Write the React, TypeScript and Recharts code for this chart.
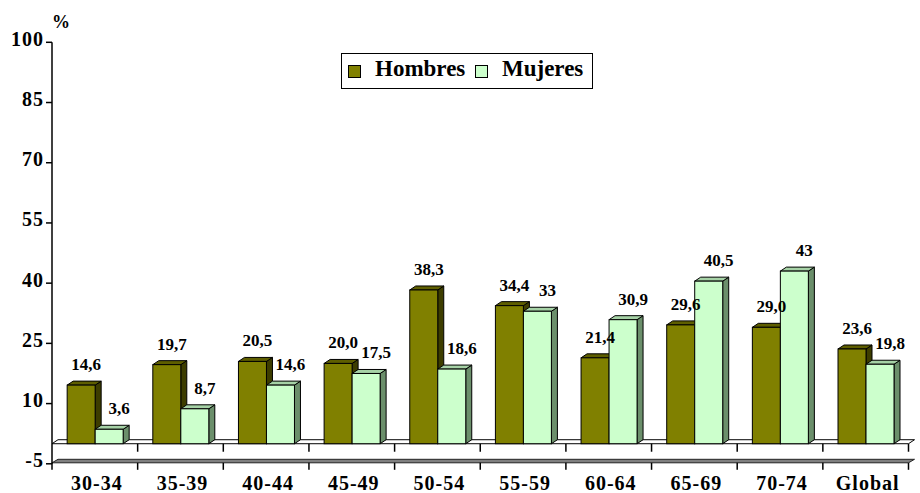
import React from 'react';
import { BarChart, Bar, XAxis, YAxis, Legend, LabelList, ReferenceArea } from 'recharts';

// Prevalencia (%) por grupo de edad y sexo
const categories = ['30-34', '35-39', '40-44', '45-49', '50-54', '55-59', '60-64', '65-69', '70-74', 'Global'];
const hombres = [14.6, 19.7, 20.5, 20.0, 38.3, 34.4, 21.4, 29.6, 29.0, 23.6];
const mujeres = [3.6, 8.7, 14.6, 17.5, 18.6, 33, 30.9, 40.5, 43, 19.8];
const yTicks = [-5, 10, 25, 40, 55, 70, 85, 100];

const rows = categories.map((grupo, i) => ({ grupo, hombres: hombres[i], mujeres: mujeres[i] }));

const SERIF = '"Liberation Serif", "Times New Roman", Times, serif';
const DX = 6;
const DY = -4;

const HOMBRES = { front: '#808000', top: '#5e5e00', side: '#3d3d00' };
const MUJERES = { front: '#ccffcc', top: '#a6d2a6', side: '#6b8f6b' };

type Faces = { front: string; top: string; side: string };

// Prism-style bar: front face, top face and right side face
const makeBar3D = (c: Faces) => (props: any) => {
  const { x, y, width, height } = props;
  if (width == null || height == null) return null;
  const w = width;
  const h = height;
  const topPts = `${x},${y} ${x + DX},${y + DY} ${x + w + DX},${y + DY} ${x + w},${y}`;
  const sidePts = `${x + w},${y} ${x + w + DX},${y + DY} ${x + w + DX},${y + h + DY} ${x + w},${y + h}`;
  return (
    <g>
      <polygon points={sidePts} fill={c.side} stroke="#000" strokeWidth={1} strokeLinejoin="round" />
      <polygon points={topPts} fill={c.top} stroke="#000" strokeWidth={1} strokeLinejoin="round" />
      <rect x={x} y={y} width={w} height={h} fill={c.front} stroke="#000" strokeWidth={1} />
    </g>
  );
};

// Zero plane, floor slab at the axis minimum and the category separators
const FloorShape = (props: any) => {
  const { x, y, width, height } = props;
  const n = categories.length;
  const step = width / n;
  const y0 = y;
  const yb = y + height - 1;
  const sDY = -3.5;
  const seps = Array.from({ length: n + 1 }, (_, i) => x + i * step);
  return (
    <g>
      <polygon
        points={`${x},${y0} ${x + DX},${y0 + DY} ${x + width + DX},${y0 + DY} ${x + width},${y0}`}
        fill="#fff"
        stroke="#000"
        strokeWidth={1}
      />
      {seps.slice(1).map((sx, i) => (
        <line key={`a${i}`} x1={sx} y1={y0} x2={sx} y2={y0 + 8} stroke="#000" strokeWidth={1.5} />
      ))}
      <polygon
        points={`${x},${yb} ${x + DX},${yb + sDY} ${x + width + DX},${yb + sDY} ${x + width},${yb}`}
        fill="#808080"
        stroke="#222"
        strokeWidth={1}
      />
      {seps.map((sx, i) => (
        <line key={`b${i}`} x1={sx} y1={yb} x2={sx} y2={yb + 7} stroke="#000" strokeWidth={1.5} />
      ))}
    </g>
  );
};

const fmtH = (v: number) => v.toFixed(1).replace('.', ',');
const fmtM = (v: number) => String(v).replace('.', ',');

const makeValueLabel = (fmt: (v: number) => string, shift: number) => (props: any) => {
  const { x, y, width, value } = props;
  return (
    <text
      x={x + width / 2 + shift}
      y={y - 15}
      textAnchor="middle"
      fontFamily={SERIF}
      fontWeight="bold"
      fontSize={17}
      fill="#000"
    >
      {fmt(value)}
    </text>
  );
};

const YTick = (props: any) => {
  const { x, y, payload } = props;
  return (
    <text x={x} y={y + 3.5} textAnchor="end" fontFamily={SERIF} fontWeight="bold" fontSize={20} letterSpacing={1} fill="#000">
      {payload.value}
    </text>
  );
};

const XTick = (props: any) => {
  const { x, y, payload } = props;
  return (
    <text x={x + 2} y={y + 26} textAnchor="middle" fontFamily={SERIF} fontWeight="bold" fontSize={20} letterSpacing={1} fill="#000">
      {payload.value}
    </text>
  );
};

const PercentLabel = (props: any) => {
  const vb = props.viewBox || {};
  return (
    <text x={vb.x + vb.width + 9} y={vb.y - 14} textAnchor="middle" fontFamily={SERIF} fontWeight="bold" fontSize={18} fill="#000">
      %
    </text>
  );
};

const swatch = (bg: string): React.CSSProperties => ({
  position: 'absolute',
  top: 11,
  width: 13,
  height: 13,
  background: bg,
  border: '1px solid #000',
  boxSizing: 'border-box',
});

const textStyle: React.CSSProperties = {
  position: 'absolute',
  top: 3,
  fontFamily: SERIF,
  fontWeight: 'bold',
  fontSize: 23,
  lineHeight: '23px',
  color: '#000',
  whiteSpace: 'nowrap',
};

const LegendBox = () => (
  <div style={{ position: 'relative', width: 252, height: 36, border: '1px solid #000', boxSizing: 'border-box', background: '#fff' }}>
    <div style={{ ...swatch(HOMBRES.front), left: 6 }} />
    <span style={{ ...textStyle, left: 33 }}>Hombres</span>
    <div style={{ ...swatch(MUJERES.front), left: 133 }} />
    <span style={{ ...textStyle, left: 160 }}>Mujeres</span>
  </div>
);

export default function App() {
  return (
    <div style={{ position: 'absolute', left: 0, top: 0, background: '#fff' }}>
      <BarChart
        width={920}
        height={493}
        data={rows}
        margin={{ top: 42.3, right: 11.5, bottom: 0, left: 0 }}
        barCategoryGap="17.7%"
        barGap={0}
      >
        <ReferenceArea y1={-5} y2={0} ifOverflow="visible" shape={FloorShape} />
        <XAxis
          dataKey="grupo"
          axisLine={false}
          tickLine={false}
          tickSize={0}
          tickMargin={0}
          height={29.2}
          interval={0}
          tick={XTick}
        />
        <YAxis
          type="number"
          domain={[-5, 100]}
          ticks={yTicks}
          interval={0}
          width={52}
          tickSize={6}
          tickMargin={2}
          axisLine={{ stroke: '#000', strokeWidth: 1.5 }}
          tickLine={{ stroke: '#000', strokeWidth: 1.5 }}
          tick={YTick}
          label={PercentLabel}
        />
        <Legend
          layout="horizontal"
          verticalAlign="middle"
          align="center"
          wrapperStyle={{ left: 341, top: 53, width: 252, height: 36 }}
          content={LegendBox}
        />
        <Bar dataKey="hombres" name="Hombres" fill={HOMBRES.front} isAnimationActive={false} shape={makeBar3D(HOMBRES)}>
          <LabelList dataKey="hombres" content={makeValueLabel(fmtH, 5)} />
        </Bar>
        <Bar dataKey="mujeres" name="Mujeres" fill={MUJERES.front} isAnimationActive={false} shape={makeBar3D(MUJERES)}>
          <LabelList dataKey="mujeres" content={makeValueLabel(fmtM, 10)} />
        </Bar>
      </BarChart>
    </div>
  );
}
